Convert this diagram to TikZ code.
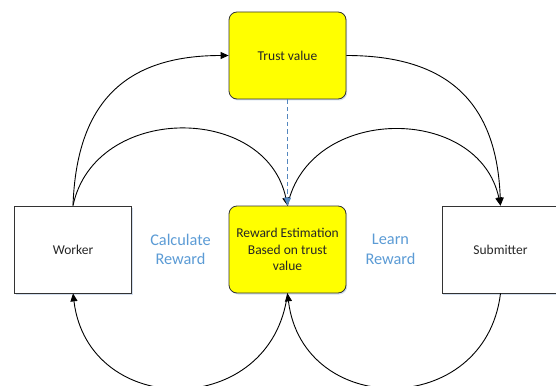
\documentclass[tikz,border=0pt]{standalone}
\usepackage{fontspec}
\setmainfont{Carlito}
\usetikzlibrary{arrows.meta,shadows}
\definecolor{lblue}{RGB}{91,155,213}
\definecolor{dblue}{RGB}{84,135,190}
\definecolor{yel}{RGB}{255,255,0}
\definecolor{shad}{RGB}{200,215,235}
\begin{document}
\begin{tikzpicture}[x=1pt,y=1pt,
  boxnode/.style={draw=black!80, line width=0.8pt, minimum width=117pt, minimum height=87pt,
    inner sep=2pt, align=center, text=black!85, font=\fontsize{13.5}{16.5}\selectfont, fill=white,
    drop shadow={shadow xshift=1.2pt, shadow yshift=-1.5pt, fill=shad, opacity=0.8}},
  ybox/.style={boxnode, fill=yel, rounded corners=8pt},
  conn/.style={line width=0.9pt, draw=black, -{Triangle[length=8pt,width=7pt]}},
  dconn/.style={line width=1.2pt, color=dblue, dash pattern=on 4.5pt off 3pt,
    -{Triangle[length=8pt,width=7pt,fill=dblue]}},
  lbl/.style={text=lblue, align=center, font=\fontsize{16.3}{19.5}\selectfont}
]
\useasboundingbox (0,0) rectangle (556,-385);

\node[ybox] (trust) at (287.5,-55.5) {Trust value};
\node[ybox] (reward) at (287.5,-249.5) {Reward Estimation\\Based on trust\\value};
\node[boxnode] (worker) at (73,-249.5) {Worker};
\node[boxnode] (submitter) at (500.5,-249.5) {Submitter};

\node[lbl] (calc) at (180.5,-249.5) {Calculate\\Reward};
\node[lbl] (learn) at (390.5,-249.5) {Learn\\Reward};

% outer top arcs
\draw[conn] (worker.north) to[out=88,in=180,looseness=1.22] (trust.west);
\draw[conn] (trust.east) to[out=0,in=92,looseness=1.22] (submitter.north);
% inner top arcs
\draw[conn] (worker.north) to[out=78,in=102,looseness=1.25] (reward.north);
\draw[conn] (reward.north) to[out=78,in=102,looseness=1.25] (submitter.north);
% bottom arcs
\draw[conn] (reward.south) to[out=-97,in=-83,looseness=1.52] (worker.south);
\draw[conn] (submitter.south) to[out=-97,in=-83,looseness=1.52] (reward.south);
% dashed
\draw[dconn] (trust.south) -- (reward.north);
\end{tikzpicture}
\end{document}
